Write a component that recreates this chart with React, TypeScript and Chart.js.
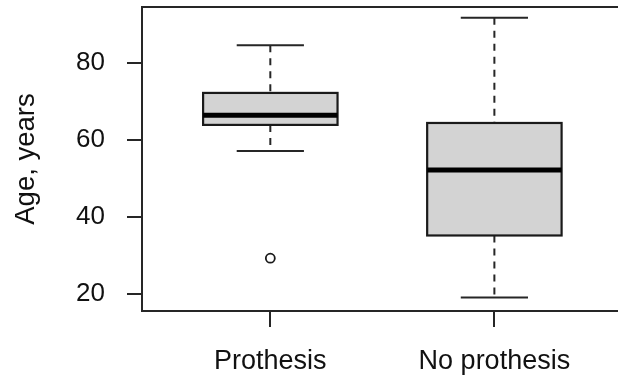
import React, { useEffect, useRef } from 'react';
import { Chart, registerables } from 'chart.js';

Chart.register(...registerables);

const categories = ['Prothesis', 'No prothesis'];
const positions = [1, 2];
const whiskerLow = [57.1, 19.1];
const q1 = [63.9, 35.2];
const medians = [66.4, 52.2];
const q3 = [72.2, 64.4];
const whiskerHigh = [84.6, 91.7];
const outlierPositions = [1];
const outlierValues = [29.3];
const yTicks = [20, 40, 60, 80];

const FONT = "'Liberation Sans', Arial, sans-serif";
const LINE = '#262626';

const boxPlugin = {
  id: 'rBoxes',
  beforeDatasetsDraw(chart: any) {
    const { ctx, scales } = chart;
    const x = scales.x;
    const y = scales.y;
    ctx.save();
    positions.forEach((p, i) => {
      const cx = x.getPixelForValue(p);
      const bl = x.getPixelForValue(p - 0.3);
      const br = x.getPixelForValue(p + 0.3);
      const cl = x.getPixelForValue(p - 0.15);
      const cr = x.getPixelForValue(p + 0.15);
      const yLo = y.getPixelForValue(whiskerLow[i]);
      const yQ1 = y.getPixelForValue(q1[i]);
      const yMed = y.getPixelForValue(medians[i]);
      const yQ3 = y.getPixelForValue(q3[i]);
      const yHi = y.getPixelForValue(whiskerHigh[i]);

      // dashed whiskers
      ctx.strokeStyle = LINE;
      ctx.lineWidth = 2;
      ctx.setLineDash([7, 6]);
      ctx.beginPath();
      ctx.moveTo(cx, yHi);
      ctx.lineTo(cx, yQ3);
      ctx.moveTo(cx, yQ1);
      ctx.lineTo(cx, yLo);
      ctx.stroke();
      ctx.setLineDash([]);

      // caps
      ctx.beginPath();
      ctx.moveTo(cl, yHi);
      ctx.lineTo(cr, yHi);
      ctx.moveTo(cl, yLo);
      ctx.lineTo(cr, yLo);
      ctx.stroke();

      // box
      ctx.fillStyle = '#d3d3d3';
      ctx.fillRect(bl, yQ3, br - bl, yQ1 - yQ3);
      ctx.strokeStyle = '#1a1a1a';
      ctx.lineWidth = 2.2;
      ctx.strokeRect(bl, yQ3, br - bl, yQ1 - yQ3);

      // median
      ctx.strokeStyle = '#000';
      ctx.lineWidth = 5;
      ctx.beginPath();
      ctx.moveTo(bl, yMed);
      ctx.lineTo(br, yMed);
      ctx.stroke();
    });
    ctx.restore();
  },
  afterDraw(chart: any) {
    const { ctx, chartArea } = chart;
    ctx.save();
    ctx.strokeStyle = LINE;
    ctx.lineWidth = 2;
    ctx.strokeRect(chartArea.left, chartArea.top, chartArea.right - chartArea.left, chartArea.bottom - chartArea.top);
    ctx.restore();
  },
};

export default function App() {
  const canvasRef = useRef<HTMLCanvasElement | null>(null);

  useEffect(() => {
    if (!canvasRef.current) return;
    const chart = new Chart(canvasRef.current, {
      type: 'scatter',
      data: {
        datasets: [
          {
            label: 'Outliers',
            data: outlierPositions.map((p, i) => ({ x: p, y: outlierValues[i] })),
            pointRadius: 4.5,
            pointBorderWidth: 1.8,
            borderColor: '#1a1a1a',
            backgroundColor: 'rgba(0,0,0,0)',
            pointStyle: 'circle',
          },
        ],
      },
      options: {
        animation: false,
        responsive: true,
        maintainAspectRatio: false,
        layout: { padding: { top: 7, left: 0, right: 0, bottom: 0 } },
        plugins: {
          legend: { display: false },
          tooltip: { enabled: false },
        },
        scales: {
          x: {
            type: 'linear',
            min: 0.4273,
            max: 2.5727,
            afterFit: (scale: any) => {
              scale.height = 69;
              scale.paddingLeft = 0;
              scale.paddingRight = 0;
            },
            afterBuildTicks: (scale: any) => {
              scale.ticks = positions.map((v) => ({ value: v }));
            },
            ticks: {
              callback: (v: any) => categories[positions.indexOf(Number(v))] ?? '',
              font: { family: FONT, size: 27 },
              color: '#111',
              padding: 18.5,
              maxRotation: 0,
              autoSkip: false,
            },
            grid: {
              drawOnChartArea: false,
              drawTicks: true,
              tickLength: 16,
              color: LINE,
              lineWidth: 2,
            },
            border: { display: false },
          },
          y: {
            type: 'linear',
            min: 15.6,
            max: 94.5,
            afterFit: (scale: any) => {
              scale.width = 142;
              scale.paddingTop = 0;
              scale.paddingBottom = 0;
            },
            afterBuildTicks: (scale: any) => {
              scale.ticks = yTicks.map((v) => ({ value: v }));
            },
            ticks: {
              font: { family: FONT, size: 26 },
              color: '#111',
              padding: 22,
            },
            grid: {
              drawOnChartArea: false,
              drawTicks: true,
              tickLength: 15,
              color: LINE,
              lineWidth: 2,
            },
            border: { display: false },
            title: {
              display: true,
              text: 'Age, years',
              font: { family: FONT, size: 27.5 },
              color: '#111',
              padding: { top: 9.5, bottom: 0 },
            },
          },
        },
      },
      plugins: [boxPlugin],
    });
    return () => chart.destroy();
  }, []);

  return (
    <div style={{ position: 'fixed', left: 0, top: 0, width: 629, height: 380, background: '#fff' }}>
      <canvas ref={canvasRef} />
    </div>
  );
}
